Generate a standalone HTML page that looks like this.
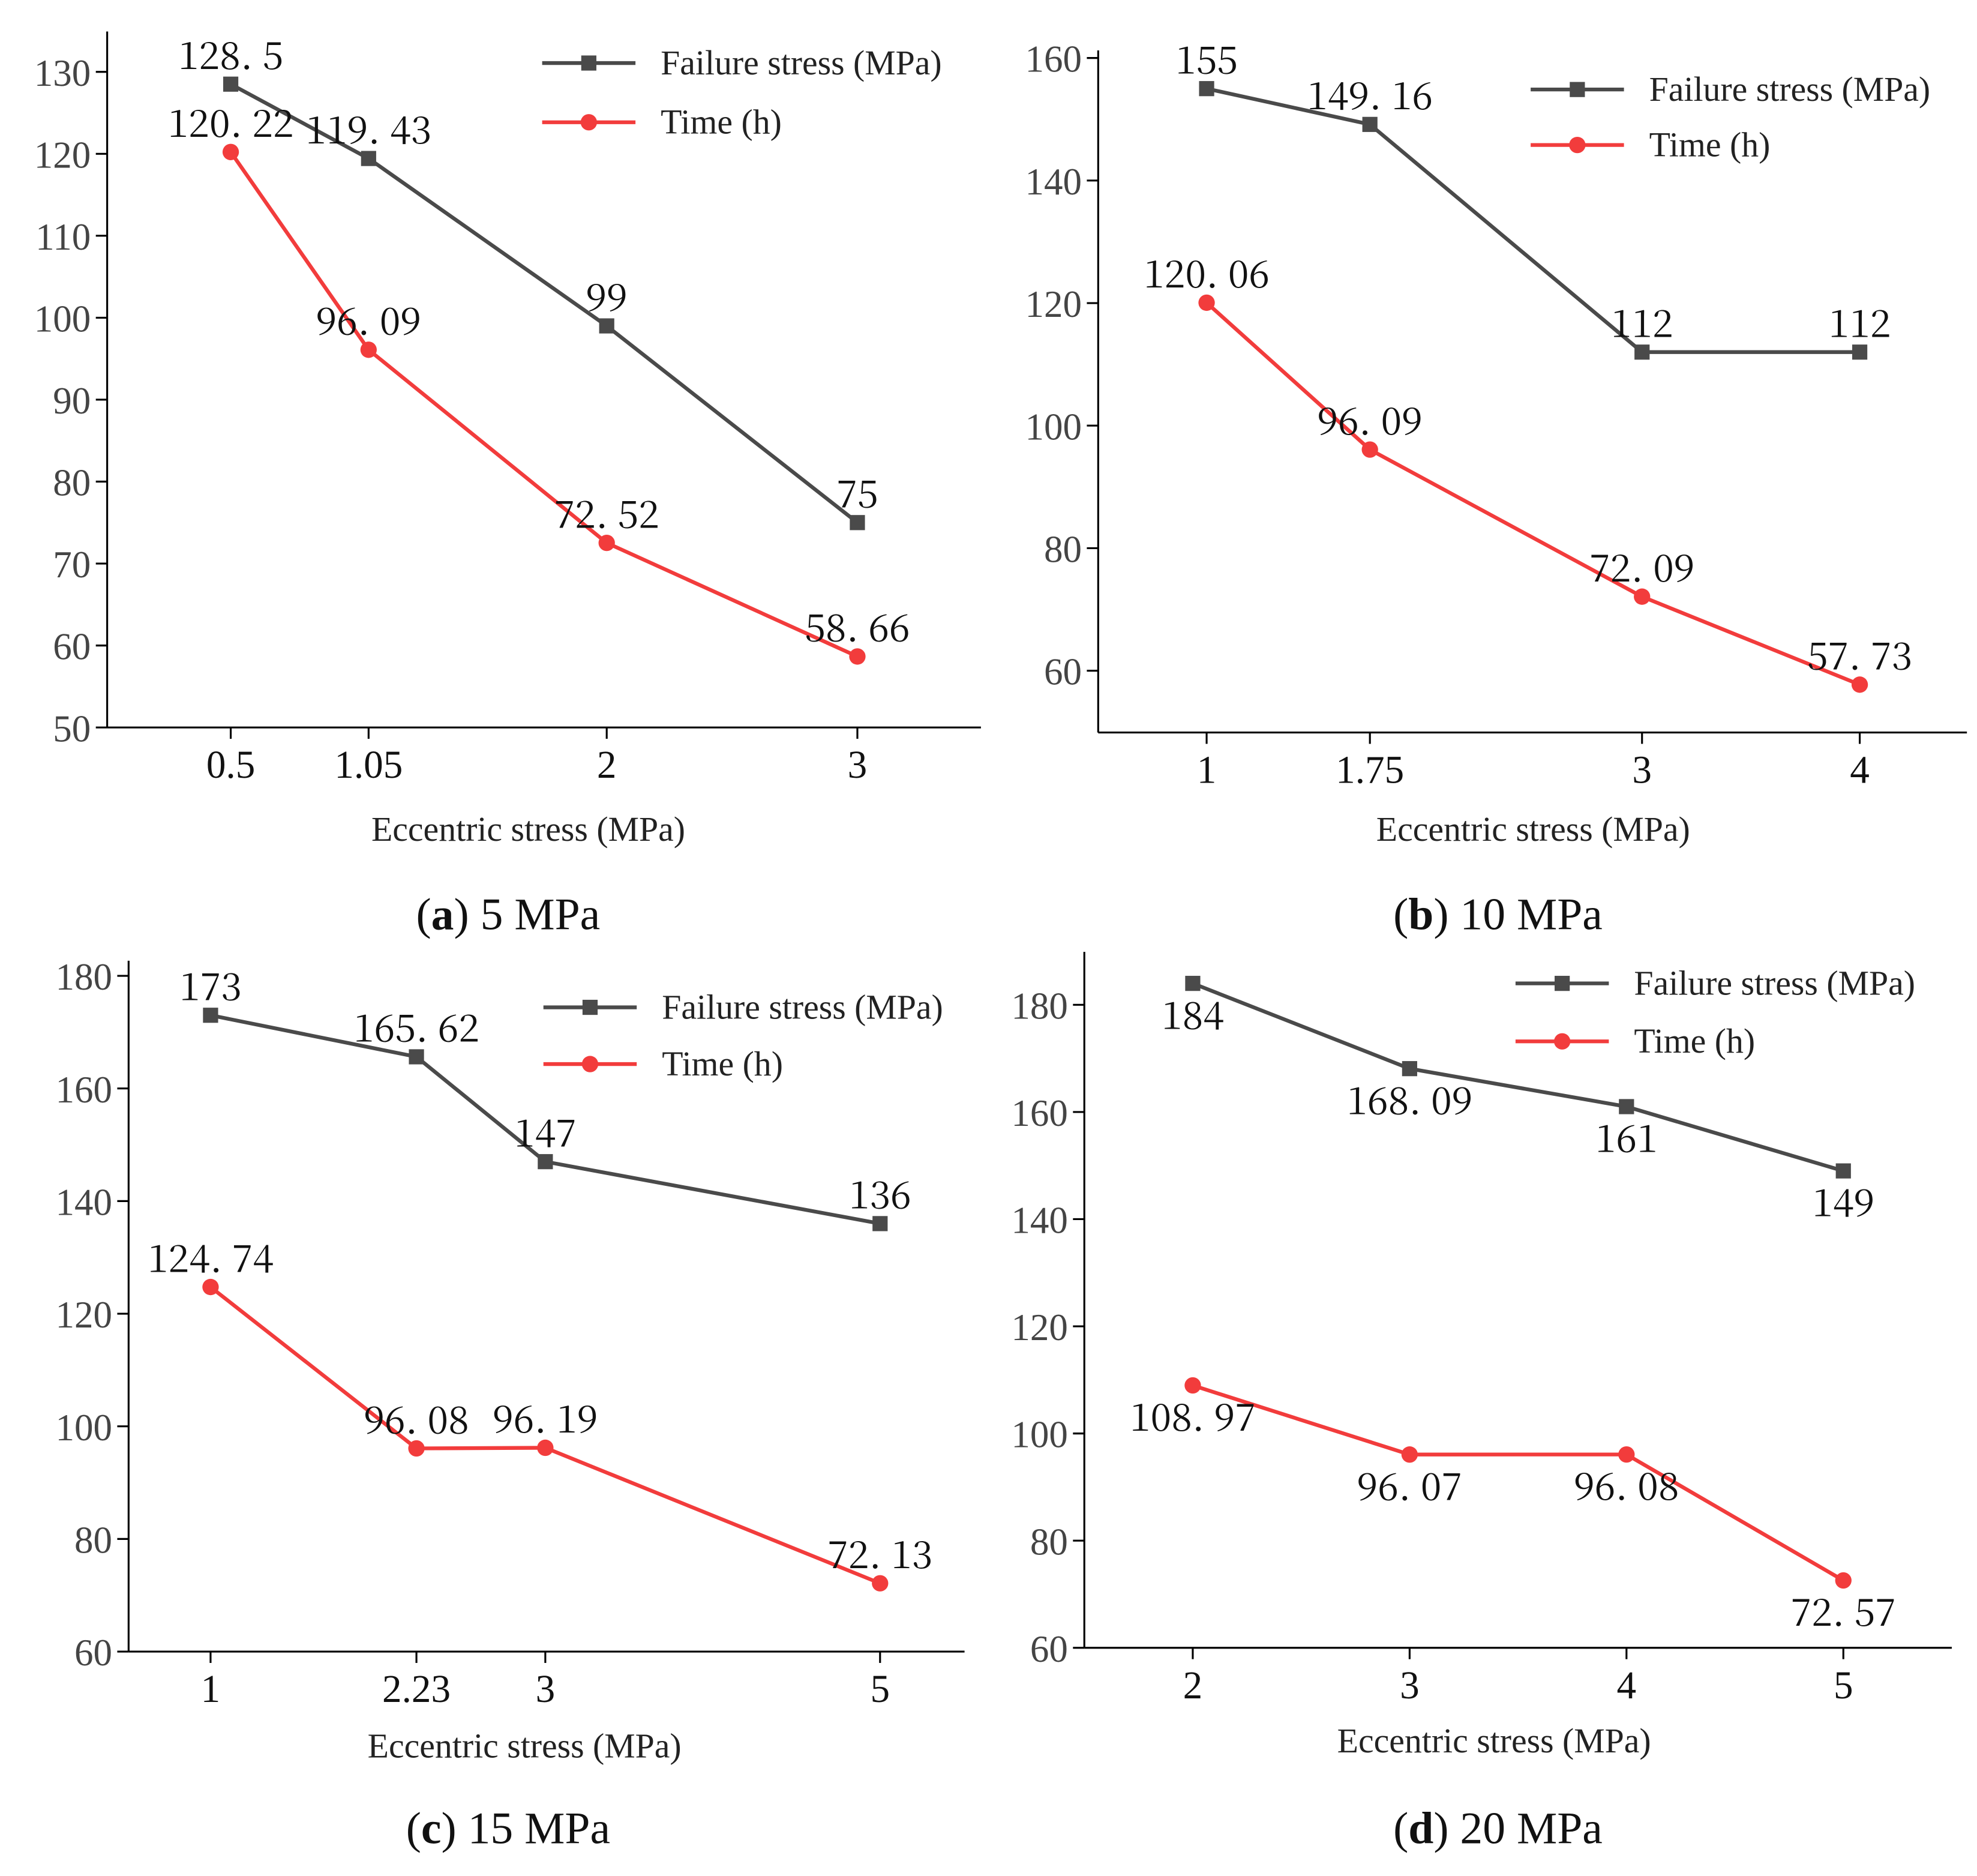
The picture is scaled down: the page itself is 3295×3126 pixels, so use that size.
<!DOCTYPE html>
<html><head><meta charset="utf-8"><style>html,body{margin:0;padding:0;background:#fff}svg{display:block}</style></head>
<body>
<svg id="chart" width="3295" height="3126" viewBox="0 0 1568 1488" preserveAspectRatio="none" xmlns="http://www.w3.org/2000/svg"></svg>
<script>
// Panel (a) 5 MPa
const xA = [0.5, 1.05, 2, 3];
const failA = [128.5, 119.43, 99, 75];
const timeA = [120.22, 96.09, 72.52, 58.66];
const failLabA = ["128. 5", "119. 43", "99", "75"];
const timeLabA = ["120. 22", "96. 09", "72. 52", "58. 66"];
const xTicksA = ["0.5", "1.05", "2", "3"];
const yTicksA = [50, 60, 70, 80, 90, 100, 110, 120, 130];
// Panel (b) 10 MPa
const xB = [1, 1.75, 3, 4];
const failB = [155, 149.16, 112, 112];
const timeB = [120.06, 96.09, 72.09, 57.73];
const failLabB = ["155", "149. 16", "112", "112"];
const timeLabB = ["120. 06", "96. 09", "72. 09", "57. 73"];
const xTicksB = ["1", "1.75", "3", "4"];
const yTicksB = [60, 80, 100, 120, 140, 160];
// Panel (c) 15 MPa
const xC = [1, 2.23, 3, 5];
const failC = [173, 165.62, 147, 136];
const timeC = [124.74, 96.08, 96.19, 72.13];
const failLabC = ["173", "165. 62", "147", "136"];
const timeLabC = ["124. 74", "96. 08", "96. 19", "72. 13"];
const xTicksC = ["1", "2.23", "3", "5"];
const yTicksC = [60, 80, 100, 120, 140, 160, 180];
// Panel (d) 20 MPa
const xD = [2, 3, 4, 5];
const failD = [184, 168.09, 161, 149];
const timeD = [108.97, 96.07, 96.08, 72.57];
const failLabD = ["184", "168. 09", "161", "149"];
const timeLabD = ["108. 97", "96. 07", "96. 08", "72. 57"];
const xTicksD = ["2", "3", "4", "5"];
const yTicksD = [60, 80, 100, 120, 140, 160, 180];

const NS = "http://www.w3.org/2000/svg";
const svg = document.getElementById("chart");
const GRAY = "#4a4a4a", RED = "#f23c3c";
function mk(tag, attrs, parent, text) {
  const e = document.createElementNS(NS, tag);
  for (const k in attrs) e.setAttribute(k, attrs[k]);
  if (text !== undefined) e.textContent = text;
  (parent || svg).appendChild(e);
  return e;
}
function panel(p) {
  const g = mk("g", {});
  
  
  const sx = v => p.px0 + (v - p.xv0) * (p.px1 - p.px0) / (p.xv1 - p.xv0);
  const sy = v => p.py0 + (v - p.yv0) * (p.py1 - p.py0) / (p.yv1 - p.yv0);
  const ya = mk("line", {x1: p.ax, y1: p.top, x2: p.ax, y2: p.bottom, stroke: "#000", "stroke-width": 1.5}, g);
  
  
  const xa = mk("line", {x1: p.ax, y1: p.bottom, x2: p.right, y2: p.bottom, stroke: "#000", "stroke-width": 1.5}, g);
  
  
  p.yTicks.forEach(t => {
    const y = sy(t);
    mk("line", {x1: p.ax - 9, y1: y, x2: p.ax, y2: y, stroke: "#000", "stroke-width": 1.5}, g);
    const tl = mk("text", {x: p.ax - 13, y: y + 11, "text-anchor": "end", "font-size": 30, "font-family": "Liberation Serif, serif", fill: "#444"}, g, t);
    
    
  });
  p.xs.forEach((v, i) => {
    const x = sx(v);
    mk("line", {x1: x, y1: p.bottom, x2: x, y2: p.bottom + 9, stroke: "#000", "stroke-width": 1.5}, g);
    const tl = mk("text", {x: x, y: p.bottom + 40, "text-anchor": "middle", "font-size": 31, "font-family": "Liberation Serif, serif", fill: "#111"}, g, p.xTicks[i]);
    
    
  });
  const at = mk("text", {x: p.titleX, y: p.titleY, "text-anchor": "middle", "font-size": 27.5, "font-family": "Liberation Serif, serif", fill: "#222"}, g, "Eccentric stress (MPa)");
  
  
  [[p.fail, p.failLab, GRAY, "failure-stress", "sq", p.failDy], [p.time, p.timeLab, RED, "time", "ci", p.timeDy]].forEach(s => {
    const pts = p.xs.map((v, i) => sx(v) + "," + sy(s[0][i])).join(" ");
    const pl = mk("polyline", {points: pts, fill: "none", stroke: s[2], "stroke-width": 3}, g);
    
    
    p.xs.forEach((v, i) => {
      const x = sx(v), y = sy(s[0][i]);
      let m;
      if (s[4] === "sq") m = mk("rect", {x: x - 6, y: y - 6, width: 12, height: 12, fill: s[2]}, g);
      else m = mk("circle", {cx: x, cy: y, r: 6.5, fill: s[2]}, g);
      
      
      const lb = mk("text", {x: x, y: y + s[5], "text-anchor": "middle", "font-size": 30, "font-family": "Noto Serif CJK SC, Liberation Serif, serif", fill: "#111"}, g, s[1][i]);
      
      
    });
  });
  [[p.legY1, GRAY, "sq", "Failure stress (MPa)", "legend-failure-stress"], [p.legY2, RED, "ci", "Time (h)", "legend-time"]].forEach(l => {
    const lg = mk("g", {}, g);
    
    
    mk("line", {x1: p.legX, y1: l[0], x2: p.legX + 74, y2: l[0], stroke: l[1], "stroke-width": 3}, lg);
    if (l[2] === "sq") mk("rect", {x: p.legX + 31, y: l[0] - 6, width: 12, height: 12, fill: l[1]}, lg);
    else mk("circle", {cx: p.legX + 37, cy: l[0], r: 6.5, fill: l[1]}, lg);
    mk("text", {x: p.legX + 94, y: l[0] + 9, "font-size": 27.5, "font-family": "Liberation Serif, serif", fill: "#222"}, lg, l[3]);
  });
  const cap = mk("text", {x: p.capX, y: p.capY, "text-anchor": "middle", "font-size": 36, "font-family": "Liberation Serif, serif", fill: "#111"}, g);
  
  
  mk("tspan", {}, cap, "(");
  mk("tspan", {"font-weight": "bold"}, cap, p.id);
  mk("tspan", {}, cap, ") " + p.cap);
}
panel({id: "a", cap: "5 MPa", xs: xA, fail: failA, time: timeA, failLab: failLabA, timeLab: timeLabA, xTicks: xTicksA, yTicks: yTicksA,
  xv0: 0.5, xv1: 3, px0: 183, px1: 680, yv0: 50, yv1: 130, py0: 577, py1: 57, ax: 85, top: 25, bottom: 577, right: 778,
  failDy: -12, timeDy: -12, legX: 430, legY1: 50, legY2: 97, titleX: 419, titleY: 667, capX: 403, capY: 737});
panel({id: "b", cap: "10 MPa", xs: xB, fail: failB, time: timeB, failLab: failLabB, timeLab: timeLabB, xTicks: xTicksB, yTicks: yTicksB,
  xv0: 1, xv1: 4, px0: 957, px1: 1475, yv0: 60, yv1: 160, py0: 532, py1: 46, ax: 871, top: 40, bottom: 581, right: 1560,
  failDy: -12, timeDy: -12, legX: 1214, legY1: 71, legY2: 115, titleX: 1216, titleY: 667, capX: 1188, capY: 737});
panel({id: "c", cap: "15 MPa", xs: xC, fail: failC, time: timeC, failLab: failLabC, timeLab: timeLabC, xTicks: xTicksC, yTicks: yTicksC,
  xv0: 1, xv1: 5, px0: 167, px1: 698, yv0: 60, yv1: 180, py0: 1310, py1: 774, ax: 102, top: 762, bottom: 1310, right: 765,
  failDy: -12, timeDy: -12, legX: 431, legY1: 799, legY2: 844, titleX: 416, titleY: 1394, capX: 403, capY: 1462});
panel({id: "d", cap: "20 MPa", xs: xD, fail: failD, time: timeD, failLab: failLabD, timeLab: timeLabD, xTicks: xTicksD, yTicks: yTicksD,
  xv0: 2, xv1: 5, px0: 946, px1: 1462, yv0: 60, yv1: 180, py0: 1307, py1: 797, ax: 860, top: 755, bottom: 1307, right: 1548,
  failDy: 36, timeDy: 36, legX: 1202, legY1: 780, legY2: 826, titleX: 1185, titleY: 1390, capX: 1188, capY: 1462});
</script>
</body></html>
